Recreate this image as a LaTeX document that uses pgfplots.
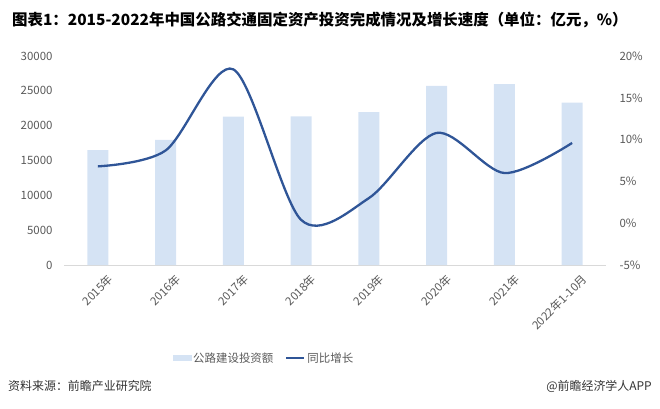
\documentclass[border=0pt]{standalone}
\usepackage{fontspec}
\setmainfont{Noto Sans CJK SC}
\usepackage{pgfplots}
\pgfplotsset{compat=1.18}
\definecolor{barblue}{HTML}{D5E3F4}
\definecolor{lineblue}{HTML}{2F5597}
\definecolor{txtgrey}{HTML}{595959}
\definecolor{axgrey}{HTML}{D9D9D9}
\pgfplotsset{
  cnaxis/.style={
    at={(64bp,-265bp)}, anchor=south west,
    width=542bp, height=209bp, scale only axis,
    xmin=-0.5, xmax=7.5,
    major tick length=0pt,
    tick label style={font=\fontsize{11.5}{13}\selectfont, text=txtgrey},
    /pgf/number format/assume math mode=true,
    y axis line style={draw=none},
  },
}
\begin{document}
\begin{tikzpicture}[x=1bp,y=1bp]
\useasboundingbox (0bp,0bp) rectangle (660bp,-409bp);
\node[anchor=west, inner sep=0pt, font=\bfseries\fontsize{15.5}{18}\selectfont] at (12bp,-20bp)
  {图表1：2015-2022年中国公路交通固定资产投资完成情况及增长速度（单位：亿元，\%）};

% investment bars
\begin{axis}[cnaxis,
  ymin=0, ymax=30000, ytick={0,5000,...,30000},
  scaled y ticks=false,
  yticklabel style={/pgf/number format/1000 sep={}, xshift=-8bp},
  axis y line*=left, axis x line*=bottom,
  x axis line style={axgrey, line width=0.8pt, -},
  xtick={0,...,7},
  xticklabels={2015年,2016年,2017年,2018年,2019年,2020年,2021年,2022年1-10月},
  xticklabel style={rotate=45, anchor=north east, inner sep=1pt, xshift=1.7bp, yshift=-11bp},
]
\addplot[ybar, bar width=21bp, fill=barblue, draw=none] coordinates {
(0,16500) (1,17950) (2,21300) (3,21350) (4,21950) (5,25700) (6,25950) (7,23300)
};
\end{axis}

% growth line
\begin{axis}[cnaxis,
  ymin=-5, ymax=20, ytick={-5,0,...,20},
  yticklabels={-5\%,0\%,5\%,10\%,15\%,20\%},
  yticklabel style={anchor=west, xshift=10bp},
  axis y line*=right, axis x line=none,
  legend columns=2,
  legend style={draw=none, fill=none, at={(0.369,-0.445)}, anchor=center,
    font=\fontsize{11.5}{13}\selectfont, text=txtgrey,
    /tikz/every even column/.append style={column sep=10bp}},
]
\addlegendimage{legend image code/.code={\fill[barblue] (0bp,-2.5bp) rectangle (18bp,2.5bp);}}
\addlegendentry{公路建设投资额}
\addplot[lineblue, line width=2.3bp, smooth, tension=0.5,
  legend image code/.code={\draw[lineblue, line width=2bp] (0bp,0bp) -- (18bp,0bp);}]
  coordinates {(0,6.8) (1,8.7) (2,18.4) (3,0.4) (4,3.0) (5,10.8) (6,6.0) (7,9.6)};
\addlegendentry{同比增长}
\end{axis}

\node[anchor=west, inner sep=0pt, text=black!80, font=\fontsize{12}{14}\selectfont] at (8bp,-386bp) {资料来源：前瞻产业研究院};
\node[anchor=east, inner sep=0pt, text=black!80, font=\fontsize{12}{14}\selectfont] at (652bp,-386bp) {@前瞻经济学人APP};
\end{tikzpicture}
\end{document}
